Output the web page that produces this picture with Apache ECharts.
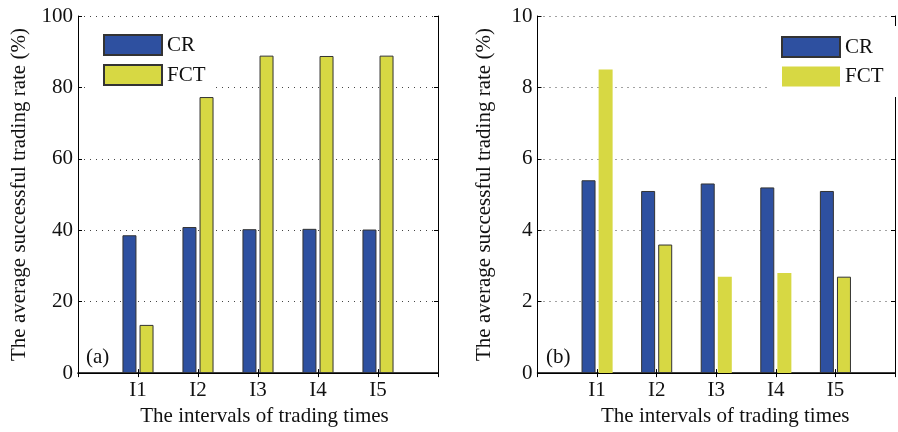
<!DOCTYPE html>
<html>
<head>
<meta charset="utf-8">
<script src="https://cdn.jsdelivr.net/npm/echarts@6/dist/echarts.min.js"></script>
<style>
html,body{margin:0;padding:0;background:#fff;}
#chart{width:898px;height:432px;}
</style>
</head>
<body>
<div id="chart"></div>
<script>
var categories = ['I1', 'I2', 'I3', 'I4', 'I5'];
var crA = [38.6, 40.9, 40.3, 40.4, 40.2];
var fctA = [13.5, 77.3, 88.9, 88.8, 88.9];
var crB = [5.4, 5.1, 5.31, 5.2, 5.1];
var fctB = [8.5, 3.6, 2.7, 2.8, 2.7];
var yTicksA = [0, 20, 40, 60, 80, 100];
var yTicksB = [0, 2, 4, 6, 8, 10];
var seriesNames = ['CR', 'FCT'];
var yTitle = 'The average successful trading rate (%)';
var xTitle = 'The intervals of trading times';
var panelLabels = ['(a)', '(b)'];

var FONT = '"Liberation Serif", "Times New Roman", "DejaVu Serif", serif';
var FS = 21;
var BLUE = '#2E50A0';
var YELLOW = '#D7D843';
var EDGE = '#333333';

var axisData = [''].concat(categories, ['']);
function pad(arr) { return [null].concat(arr, [null]); }

function xAxes(gi, shift) {
  return [
    {
      type: 'category', gridIndex: gi, data: axisData, boundaryGap: false, position: 'bottom',
      axisLine: { lineStyle: { color: '#000', width: 1.5 } },
      axisTick: { inside: true, length: 4, lineStyle: { color: '#000' } },
      axisLabel: { fontFamily: FONT, fontSize: FS, color: '#111', margin: 7, interval: 0 },
      splitLine: { show: false },
      name: xTitle, nameLocation: 'middle', nameGap: 29,
      nameTextStyle: { fontFamily: FONT, fontSize: FS, color: '#111', padding: [0, 0, 0, shift] }
    },
    {
      type: 'category', gridIndex: gi, data: axisData, boundaryGap: false, position: 'top',
      axisLine: { lineStyle: { color: '#000', width: 1 } },
      axisTick: { inside: true, length: 4, lineStyle: { color: '#000' } },
      axisLabel: { show: false }, splitLine: { show: false }
    }
  ];
}
function yAxes(gi, ticks, gap) {
  var mn = ticks[0], mx = ticks[ticks.length - 1], iv = ticks[1] - ticks[0];
  return [
    {
      type: 'value', gridIndex: gi, min: mn, max: mx, interval: iv, position: 'left',
      axisLine: { show: true, lineStyle: { color: '#000', width: 1 } },
      axisTick: { show: true, inside: true, length: 4, lineStyle: { color: '#000' } },
      axisLabel: { fontFamily: FONT, fontSize: FS, color: '#111', margin: 5 },
      splitLine: { show: true, lineStyle: { color: '#444', type: [1, 5], width: 1 } },
      name: yTitle, nameLocation: 'middle', nameGap: gap, nameRotate: 90,
      nameTextStyle: { fontFamily: FONT, fontSize: FS, color: '#111' }
    },
    {
      type: 'value', gridIndex: gi, min: mn, max: mx, interval: iv, position: 'right',
      axisLine: { show: true, lineStyle: { color: '#000', width: 1 } },
      axisTick: { show: true, inside: true, length: 4, lineStyle: { color: '#000' } },
      axisLabel: { show: false }, splitLine: { show: false }
    }
  ];
}

function barSeries(name, data, xi, yi, color, border) {
  return {
    type: 'bar', name: name, xAxisIndex: xi, yAxisIndex: yi,
    data: data, barWidth: 14, barGap: '22%',
    itemStyle: { color: color, borderColor: EDGE, borderWidth: border },
    emphasis: { disabled: true }
  };
}

// right panel FCT: only some bars are outlined in the reference
var fctBItems = pad(fctB).map(function (v, i) {
  if (v === null) return null;
  var outlined = (i === 2 || i === 5);
  return { value: v, itemStyle: { borderWidth: outlined ? 1 : 0, borderColor: EDGE } };
});

var legendText = { fontFamily: FONT, fontSize: FS, color: '#111' };

var option = {
  animation: false,
  backgroundColor: '#fff',
  grid: [
    { left: 78, top: 16, width: 360, height: 360 },
    { left: 537.5, top: 16, width: 368, height: 359 }
  ],
  xAxis: xAxes(0, 13).concat(xAxes(1, 18)),
  yAxis: yAxes(0, yTicksA, 48).concat(yAxes(1, yTicksB, 43)),
  legend: [
    {
      orient: 'vertical', left: 88, top: 24, padding: [10, 10, 10, 15],
      backgroundColor: '#fff', itemWidth: 58, itemHeight: 20, itemGap: 8,
      icon: 'rect', textStyle: legendText, selectedMode: false,
      data: [{ name: seriesNames[0] }, { name: seriesNames[1] }]
    },
    {
      orient: 'vertical', left: 767, top: 26, padding: [10, 60, 10, 14],
      backgroundColor: '#fff', itemWidth: 58, itemHeight: 20, itemGap: 8,
      icon: 'rect', textStyle: legendText, selectedMode: false,
      data: [{ name: seriesNames[0] }, { name: seriesNames[1], itemStyle: { borderWidth: 0 } }]
    }
  ],
  series: [
    barSeries(seriesNames[0], pad(crA), 0, 0, BLUE, 1),
    barSeries(seriesNames[1], pad(fctA), 0, 0, YELLOW, 1),
    barSeries(seriesNames[0], pad(crB), 2, 2, BLUE, 1),
    barSeries(seriesNames[1], fctBItems, 2, 2, YELLOW, 0)
  ],
  graphic: [
    { type: 'text', x: 86, y: 357, style: { text: panelLabels[0], fontFamily: FONT, fontSize: FS, fill: '#111', textVerticalAlign: 'middle' } },
    { type: 'text', x: 546, y: 357, style: { text: panelLabels[1], fontFamily: FONT, fontSize: FS, fill: '#111', textVerticalAlign: 'middle' } }
  ]
};

var chart = echarts.init(document.getElementById('chart'), null, { renderer: 'canvas' });
chart.setOption(option);
</script>
</body>
</html>
